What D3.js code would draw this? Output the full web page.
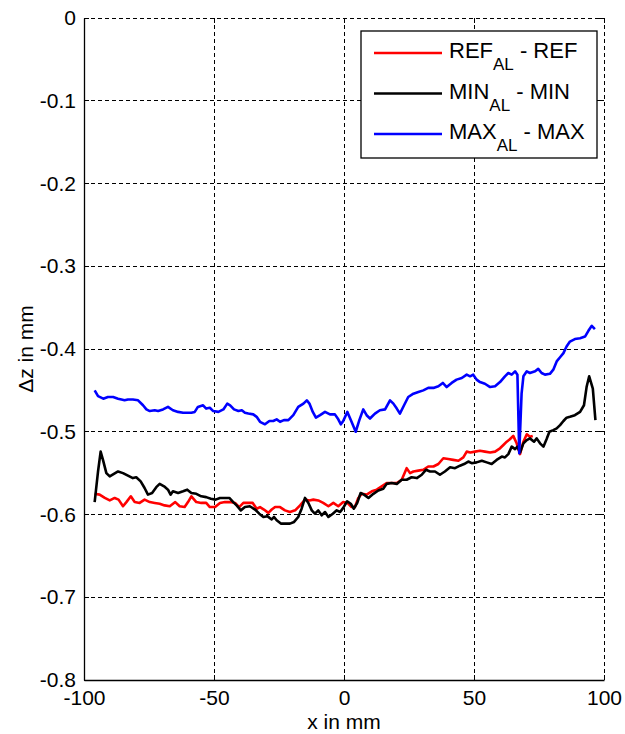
<!DOCTYPE html>
<html>
<head>
<meta charset="utf-8">
<script src="https://cdn.jsdelivr.net/npm/d3@7"></script>
<style>
  body { margin: 0; background: #fff; }
  svg { display: block; font-family: "Liberation Sans", Arial, sans-serif; }
</style>
</head>
<body>
<svg></svg>
<script>
// tick values
const xTicks = [-100, -50, 0, 50, 100];
const yTicks = [0, -0.1, -0.2, -0.3, -0.4, -0.5, -0.6, -0.7, -0.8];

// REF_AL - REF (red)
const refX = [-95.9,-94.0,-92.0,-90.1,-88.2,-86.7,-85.0,-83.7,-82.0,-80.5,-78.6,-76.7,-74.7,-72.8,-70.9,-69.0,-67.0,-64.9,-63.2,-61.3,-60.0,-58.7,-56.8,-54.9,-53.0,-51.6,-49.6,-47.7,-45.8,-43.8,-41.9,-40.3,-38.7,-36.8,-35.1,-33.6,-32.3,-30.8,-29.1,-27.8,-26.5,-24.6,-22.7,-20.8,-18.8,-16.9,-15.0,-13.3,-11.8,-9.9,-8.0,-6.0,-4.1,-2.2,-0.3,1.3,2.9,4.2,5.5,6.8,8.7,10.7,12.6,14.5,16.4,18.3,20.3,22.2,24.1,25.4,26.7,28.6,30.5,32.4,34.4,36.3,38.2,40.1,42.0,44.0,45.9,47.2,48.6,50.4,52.3,54.2,56.2,58.1,60.0,61.3,62.6,63.8,65.1,66.4,67.7,69.0,70.3,71.5,72.6];
const refY = [-0.575,-0.576,-0.580,-0.583,-0.580,-0.582,-0.590,-0.585,-0.578,-0.585,-0.586,-0.582,-0.585,-0.586,-0.587,-0.589,-0.590,-0.585,-0.590,-0.591,-0.585,-0.578,-0.585,-0.586,-0.586,-0.591,-0.591,-0.586,-0.585,-0.585,-0.586,-0.591,-0.586,-0.586,-0.586,-0.593,-0.591,-0.594,-0.598,-0.594,-0.591,-0.591,-0.595,-0.597,-0.595,-0.589,-0.582,-0.583,-0.582,-0.583,-0.586,-0.590,-0.586,-0.590,-0.585,-0.586,-0.591,-0.591,-0.580,-0.575,-0.576,-0.572,-0.570,-0.566,-0.562,-0.562,-0.562,-0.558,-0.544,-0.550,-0.548,-0.547,-0.546,-0.542,-0.542,-0.539,-0.532,-0.533,-0.534,-0.535,-0.531,-0.524,-0.525,-0.524,-0.523,-0.524,-0.525,-0.524,-0.520,-0.516,-0.512,-0.509,-0.505,-0.514,-0.527,-0.512,-0.503,-0.506,-0.505];

// MIN_AL - MIN (black)
const minX = [-95.9,-94.6,-93.6,-92.7,-91.4,-90.1,-88.5,-86.9,-85.0,-83.1,-81.2,-79.9,-78.2,-76.7,-75.4,-73.8,-72.2,-70.9,-69.2,-67.7,-66.7,-65.8,-63.8,-61.9,-60.3,-58.7,-56.8,-54.9,-53.0,-51.2,-49.4,-47.7,-45.8,-44.1,-42.6,-41.3,-39.7,-38.1,-36.2,-34.2,-32.6,-31.0,-29.5,-27.8,-26.9,-25.9,-24.3,-22.7,-20.8,-19.2,-17.6,-16.3,-15.0,-13.7,-12.4,-11.2,-9.9,-8.6,-7.3,-6.0,-4.3,-2.8,-1.5,-0.3,1.2,2.6,3.8,5.1,6.4,7.7,9.4,11.3,13.2,15.1,16.4,18.3,20.3,22.2,24.1,26.0,28.0,29.9,31.5,33.1,35.0,36.9,38.8,40.8,42.7,44.6,46.2,47.8,49.1,51.0,53.0,54.9,56.8,58.7,60.7,61.9,63.2,64.5,65.8,66.7,67.7,69.0,70.3,71.5,73.1,74.1,75.4,76.7,77.9,79.0,80.5,81.8,83.1,84.4,85.6,86.9,88.8,90.8,92.3,93.3,94.3,95.7,96.7];
const minY = [-0.585,-0.548,-0.524,-0.534,-0.550,-0.554,-0.551,-0.548,-0.550,-0.553,-0.556,-0.555,-0.560,-0.568,-0.576,-0.574,-0.567,-0.563,-0.566,-0.570,-0.576,-0.572,-0.574,-0.572,-0.570,-0.574,-0.575,-0.578,-0.579,-0.581,-0.582,-0.580,-0.580,-0.580,-0.585,-0.589,-0.595,-0.591,-0.590,-0.594,-0.599,-0.603,-0.602,-0.606,-0.603,-0.607,-0.611,-0.611,-0.611,-0.609,-0.603,-0.593,-0.580,-0.586,-0.595,-0.599,-0.595,-0.601,-0.597,-0.603,-0.599,-0.595,-0.597,-0.592,-0.584,-0.587,-0.593,-0.586,-0.574,-0.576,-0.580,-0.575,-0.571,-0.569,-0.563,-0.562,-0.563,-0.558,-0.558,-0.555,-0.556,-0.552,-0.546,-0.548,-0.548,-0.552,-0.548,-0.543,-0.544,-0.541,-0.539,-0.536,-0.538,-0.537,-0.535,-0.537,-0.539,-0.534,-0.530,-0.531,-0.527,-0.518,-0.521,-0.518,-0.525,-0.514,-0.510,-0.508,-0.512,-0.508,-0.514,-0.518,-0.509,-0.500,-0.498,-0.496,-0.492,-0.487,-0.483,-0.482,-0.480,-0.476,-0.468,-0.446,-0.433,-0.448,-0.486];

// MAX_AL - MAX (blue)
const maxX = [-95.9,-94.6,-92.6,-90.8,-88.8,-86.9,-85.6,-84.4,-83.1,-81.2,-79.2,-77.3,-76.0,-74.7,-72.8,-71.5,-69.6,-67.7,-65.8,-63.8,-61.9,-60.0,-58.7,-57.4,-56.2,-54.2,-53.0,-51.6,-50.3,-48.3,-46.4,-44.9,-43.8,-42.3,-40.6,-39.3,-38.1,-36.8,-34.9,-33.6,-32.3,-30.4,-28.7,-27.2,-25.9,-24.6,-23.1,-21.4,-19.5,-17.6,-15.6,-14.3,-13.3,-12.0,-10.8,-9.2,-7.3,-5.4,-3.5,-2.2,-1.2,-0.3,1.3,2.9,4.5,5.9,7.4,8.7,10.0,11.9,13.8,15.8,17.7,19.0,20.3,21.5,23.1,24.7,26.7,28.6,30.5,32.4,34.4,36.3,38.0,39.5,41.4,43.3,45.3,47.2,48.5,49.7,51.0,52.3,54.2,56.2,58.1,60.0,61.9,63.2,64.5,65.8,66.7,67.4,68.3,69.0,70.3,71.5,73.5,74.7,76.0,77.3,79.2,80.5,81.8,83.1,84.4,85.6,86.9,88.8,90.8,92.7,94.0,95.3,96.5];
const maxY = [-0.450,-0.457,-0.460,-0.458,-0.458,-0.460,-0.461,-0.462,-0.461,-0.461,-0.462,-0.468,-0.473,-0.475,-0.474,-0.475,-0.473,-0.470,-0.474,-0.476,-0.477,-0.477,-0.477,-0.476,-0.470,-0.468,-0.472,-0.471,-0.475,-0.476,-0.473,-0.466,-0.468,-0.473,-0.475,-0.474,-0.477,-0.478,-0.479,-0.482,-0.488,-0.491,-0.487,-0.487,-0.485,-0.488,-0.486,-0.486,-0.480,-0.470,-0.466,-0.462,-0.466,-0.476,-0.483,-0.480,-0.476,-0.479,-0.479,-0.485,-0.491,-0.487,-0.476,-0.488,-0.500,-0.486,-0.473,-0.480,-0.484,-0.478,-0.474,-0.473,-0.462,-0.466,-0.472,-0.478,-0.468,-0.458,-0.454,-0.452,-0.450,-0.447,-0.447,-0.445,-0.441,-0.446,-0.441,-0.437,-0.435,-0.431,-0.433,-0.431,-0.437,-0.440,-0.442,-0.446,-0.445,-0.440,-0.433,-0.429,-0.431,-0.427,-0.431,-0.526,-0.454,-0.433,-0.427,-0.429,-0.427,-0.424,-0.429,-0.431,-0.430,-0.425,-0.415,-0.410,-0.405,-0.397,-0.391,-0.388,-0.387,-0.385,-0.378,-0.372,-0.376];

const series = [
  { name: "REF", xs: refX, ys: refY, color: "#ff0000" },
  { name: "MIN", xs: minX, ys: minY, color: "#000000" },
  { name: "MAX", xs: maxX, ys: maxY, color: "#0000ff" }
];

const width = 625;
const height = 734;
const margin = { top: 18, right: 21, bottom: 54, left: 84 };

const xScale = d3.scaleLinear()
  .domain([-100, 100])
  .range([margin.left, width - margin.right]);

const yScale = d3.scaleLinear()
  .domain([-0.8, 0])
  .range([height - margin.bottom, margin.top]);

const svg = d3.select("svg")
  .attr("width", width)
  .attr("height", height);

svg.append("rect")
  .attr("width", width)
  .attr("height", height)
  .attr("fill", "#fff");

// dashed grid
const grid = svg.append("g")
  .attr("stroke", "#000")
  .attr("stroke-width", 1)
  .attr("stroke-dasharray", "4,3")
  .attr("shape-rendering", "crispEdges");

grid.selectAll(".gx")
  .data(xTicks)
  .enter()
  .append("line")
  .attr("x1", d => xScale(d))
  .attr("x2", d => xScale(d))
  .attr("y1", yScale(0))
  .attr("y2", yScale(-0.8));

grid.selectAll(".gy")
  .data(yTicks)
  .enter()
  .append("line")
  .attr("x1", xScale(-100))
  .attr("x2", xScale(100))
  .attr("y1", d => yScale(d))
  .attr("y2", d => yScale(d));

// inward ticks on all four sides
const tickLen = 5;
const ticks = svg.append("g")
  .attr("stroke", "#000")
  .attr("stroke-width", 1)
  .attr("shape-rendering", "crispEdges");

xTicks.forEach(d => {
  ticks.append("line")
    .attr("x1", xScale(d)).attr("x2", xScale(d))
    .attr("y1", yScale(-0.8)).attr("y2", yScale(-0.8) - tickLen);
  ticks.append("line")
    .attr("x1", xScale(d)).attr("x2", xScale(d))
    .attr("y1", yScale(0)).attr("y2", yScale(0) + tickLen);
});
yTicks.forEach(d => {
  ticks.append("line")
    .attr("x1", xScale(-100)).attr("x2", xScale(-100) + tickLen)
    .attr("y1", yScale(d)).attr("y2", yScale(d));
  ticks.append("line")
    .attr("x1", xScale(100)).attr("x2", xScale(100) - tickLen)
    .attr("y1", yScale(d)).attr("y2", yScale(d));
});

// lines
const line = d3.line()
  .x(d => xScale(d[0]))
  .y(d => yScale(d[1]));

series.forEach(s => {
  svg.append("path")
    .datum(s.xs.map((x, i) => [x, s.ys[i]]))
    .attr("fill", "none")
    .attr("stroke", s.color)
    .attr("stroke-width", 2.6)
    .attr("stroke-linejoin", "round")
    .attr("d", line);
});

// x axis
const xAxis = d3.axisBottom(xScale)
  .tickValues(xTicks)
  .tickSize(0)
  .tickPadding(10)
  .tickFormat(d => String(d));
svg.append("g")
  .attr("transform", "translate(0," + yScale(-0.8) + ")")
  .call(xAxis)
  .call(g => g.selectAll("text").attr("font-size", 21).attr("fill", "#000").attr("font-family", null))
  .call(g => g.select(".domain").attr("stroke", "#000").attr("stroke-width", 1.3));

// y axis
const yAxis = d3.axisLeft(yScale)
  .tickValues(yTicks)
  .tickSize(0)
  .tickPadding(8)
  .tickFormat(d => d === 0 ? "0" : d.toFixed(1));
svg.append("g")
  .attr("transform", "translate(" + xScale(-100) + ",0)")
  .call(yAxis)
  .call(g => g.selectAll("text").attr("font-size", 21).attr("fill", "#000").attr("font-family", null))
  .call(g => g.select(".domain").attr("stroke", "#000").attr("stroke-width", 1.3));

// axis labels
svg.append("text")
  .attr("x", xScale(0))
  .attr("y", 729)
  .attr("text-anchor", "middle")
  .attr("font-size", 21)
  .text("x in mm");

svg.append("text")
  .attr("transform", "translate(33," + yScale(-0.4) + ") rotate(-90)")
  .attr("text-anchor", "middle")
  .attr("font-size", 21)
  .text("\u0394z in mm");

// legend
const legend = svg.append("g");
legend.append("rect")
  .attr("x", 361)
  .attr("y", 31)
  .attr("width", 236)
  .attr("height", 127)
  .attr("fill", "#fff")
  .attr("stroke", "#000")
  .attr("stroke-width", 1.3);

series.forEach((s, i) => {
  const cy = 53 + i * 40.5;
  legend.append("line")
    .attr("x1", 374).attr("x2", 442)
    .attr("y1", cy).attr("y2", cy)
    .attr("stroke", s.color)
    .attr("stroke-width", 2.6);
  const t = legend.append("text")
    .attr("x", 449)
    .attr("y", cy + 5)
    .attr("font-size", 22);
  t.append("tspan").text(s.name);
  t.append("tspan").attr("font-size", 17).attr("dy", 12).text("AL");
  t.append("tspan").attr("dy", -12).text(" - " + s.name);
});
</script>
</body>
</html>
